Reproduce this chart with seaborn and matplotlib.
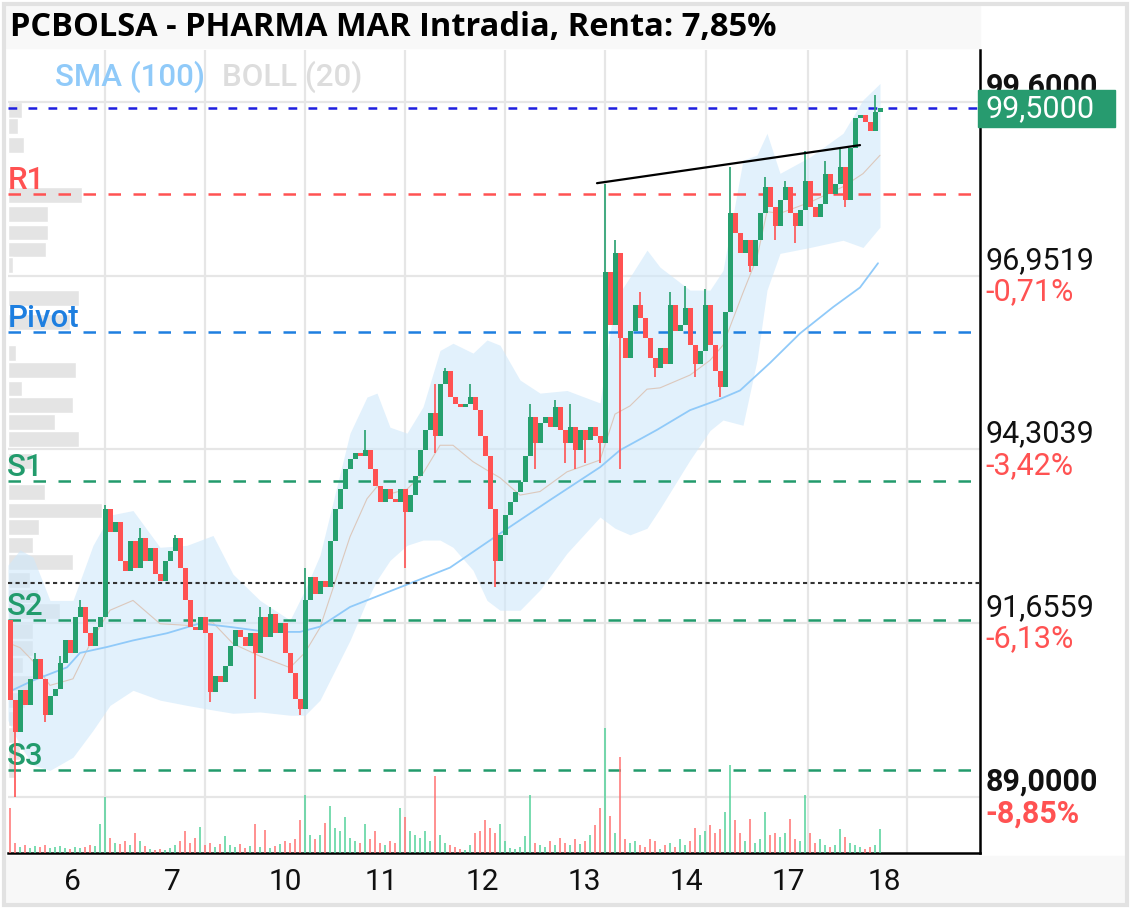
import numpy as np
import pandas as pd
import matplotlib
matplotlib.use("Agg")
import matplotlib.pyplot as plt
import matplotlib.transforms as mtrans
from matplotlib.patches import Rectangle
import seaborn as sns

W, H = 1133, 908

# --- candles (one every ~5 px of the original), open = previous close
first_open = 91.70
closes = [
    90.48, 90.00, 90.63, 90.40, 90.80, 91.10, 90.80, 90.25, 90.55, 90.65,
    91.05, 91.40, 91.20, 91.75, 91.90, 91.50, 91.30, 91.60, 91.75, 93.40,
    93.05, 93.20, 92.60, 92.45, 92.90, 92.50, 92.95, 92.60, 92.80, 92.40,
    92.30, 92.60, 92.75, 92.95, 92.50, 92.00, 91.60, 91.55, 91.75, 91.50,
    90.60, 90.85, 90.75, 91.00, 91.30, 91.55, 91.45, 91.30, 91.50, 91.20,
    91.75, 91.45, 91.80, 91.50, 91.65, 91.20, 90.90, 90.50, 90.35, 92.00,
    92.35, 92.10, 92.30, 92.20, 92.90, 93.40, 93.70, 94.00, 94.15, 94.25,
    94.20, 94.30, 94.00, 93.75, 93.50, 93.70, 93.55, 93.50, 93.70, 93.35,
    93.60, 93.90, 94.30, 94.60, 94.85, 94.50, 95.30, 95.50, 95.10, 95.00,
    94.95, 95.00, 95.10, 94.90, 94.50, 94.20, 93.40, 92.60, 93.00, 93.30,
    93.50, 93.65, 93.80, 94.20, 94.80, 94.40, 94.70, 94.80, 94.65, 94.95,
    94.60, 94.40, 94.65, 94.30, 94.60, 94.45, 94.65, 94.50, 94.40, 97.00,
    96.20, 97.30, 96.00, 95.70, 96.10, 96.50, 96.30, 96.00, 95.70, 95.55,
    95.85, 95.60, 96.50, 96.10, 96.20, 96.45, 95.90, 95.60, 95.80, 96.50,
    95.90, 95.50, 95.25, 96.40, 97.90, 97.60, 97.30, 97.50, 97.10, 97.50,
    97.90, 98.30, 98.00, 97.70, 98.10, 98.30, 97.90, 97.70, 97.95, 98.40,
    98.00, 97.85, 98.05, 98.50, 98.20, 98.35, 98.60, 98.10, 98.90, 99.35,
    99.40, 99.30, 99.15, 99.45, 99.50,
]
wick_high = {5: 91.2, 10: 91.15, 14: 92.0, 19: 93.45, 26: 93.1, 33: 93.0,
             50: 91.9, 52: 91.9, 59: 92.5, 71: 94.6, 85: 95.3, 87: 95.55,
             92: 95.3, 104: 95.0, 109: 95.05, 112: 95.0, 119: 98.35,
             121: 97.5, 126: 96.7, 132: 96.7, 135: 96.8, 139: 96.75,
             144: 98.6, 151: 98.45, 155: 98.4, 159: 98.85, 163: 98.7,
             166: 98.9, 173: 99.7}
wick_low = {1: 89.0, 7: 90.15, 40: 90.45, 49: 90.5, 58: 90.25, 79: 92.5,
            85: 94.25, 97: 92.2, 105: 94.0, 111: 94.1, 113: 94.0, 115: 94.1,
            118: 94.1, 122: 94.0, 129: 95.4, 137: 95.4, 142: 95.1,
            148: 97.0, 153: 97.5, 157: 97.45, 167: 98.0}
volumes = [
    45, 10, 6, 8, 5, 7, 6, 8, 5, 6, 7, 5, 4, 6, 5, 6, 8, 7, 29, 56,
    15, 10, 9, 12, 8, 20, 12, 7, 4, 3, 4, 3, 5, 8, 12, 22, 10, 15, 26, 8,
    10, 6, 9, 17, 8, 6, 9, 5, 7, 29, 6, 23, 5, 7, 9, 12, 10, 14, 33, 58,
    18, 14, 18, 30, 47, 25, 22, 36, 15, 12, 10, 29, 14, 22, 10, 8, 12, 10, 45, 36,
    22, 18, 15, 22, 12, 77, 18, 10, 8, 6, 4, 3, 8, 20, 22, 33, 25, 20, 29, 12,
    5, 4, 6, 17, 58, 10, 8, 6, 12, 8, 15, 10, 8, 14, 9, 12, 18, 28, 45, 125,
    37, 20, 96, 14, 10, 12, 8, 6, 14, 12, 4, 8, 10, 6, 14, 8, 12, 25, 18, 22,
    28, 20, 24, 41, 88, 33, 20, 12, 34, 10, 14, 41, 18, 20, 16, 20, 34, 14, 12, 58,
    20, 10, 14, 8, 6, 8, 24, 16, 10, 8, 6, 4, 6, 8, 24,
]

# --- indicators (candle-index units)
sma_pos = [-0.4, 4.6, 11.4, 14, 19.4, 24.6, 31.4, 38, 44.6, 51.4, 58, 62, 68,
           78, 88, 98, 108, 118, 122, 129.4, 136, 141.4, 146, 152, 158,
           164.6, 170, 173.6]
sma_val = [90.6, 90.78, 90.98, 91.2, 91.29, 91.39, 91.5, 91.65, 91.59, 91.52,
           91.52, 91.6, 91.9, 92.2, 92.5, 93.02, 93.53, 94.03, 94.29, 94.6,
           94.9, 95.05, 95.2, 95.62, 96.07, 96.47, 96.77, 97.14]

band_pos = [-0.4, 2, 4.6, 8, 12.6, 16.6, 20, 24.6, 30, 35.4, 40.6, 44.6, 50,
            56, 59, 62, 68, 71.4, 73.4, 76, 79.4, 82.6, 86, 88.6, 92.6, 95.4,
            98, 102, 106, 111.4, 118, 121, 124, 127.4, 130, 136, 140, 142.6,
            146.6, 149.4, 151.4, 154, 160, 166.6, 170.6, 174]
band_upper = [92.54, 92.77, 92.66, 92.00, 92.00, 92.84, 93.30, 93.37, 92.81,
              92.84, 92.99, 92.40, 92.00, 91.70, 92.16, 92.69, 94.55, 95.10,
              95.16, 94.64, 94.55, 94.95, 95.81, 95.92, 95.77, 95.97, 95.89,
              95.36, 95.16, 95.20, 95.01, 96.58, 96.93, 97.34, 97.08, 96.73,
              96.73, 97.03, 98.71, 98.79, 99.12, 98.51, 98.76, 99.12, 99.63,
              99.88]
band_lower = [90.17, 89.79, 89.49, 89.41, 89.61, 90.02, 90.40, 90.63, 90.48,
              90.40, 90.33, 90.28, 90.30, 90.25, 90.25, 90.48, 91.39, 92.00,
              92.31, 92.61, 92.84, 92.92, 92.92, 92.81, 92.46, 92.00, 91.85,
              91.85, 92.16, 92.72, 93.27, 93.10, 93.00, 93.10, 93.40, 94.14,
              94.59, 94.75, 94.67, 95.66, 96.73, 97.29, 97.38, 97.49, 97.38,
              97.69]

# --- volume profile on the left edge
profile_levels = [99.47, 99.23, 98.94, 98.18, 97.89, 97.61, 97.35, 97.11,
                  96.61, 96.24, 95.77, 95.51, 95.23, 94.98, 94.72, 94.46,
                  94.12, 93.65, 93.37, 93.12, 92.84, 92.58, 92.31, 92.06,
                  91.84, 91.53, 91.27, 91.01, 90.74, 90.48, 90.20, 89.95,
                  89.69, 89.41]
profile_vol = [14, 10, 16, 74, 40, 40, 38, 5, 71, 62, 8, 68, 14, 65, 47, 71,
               24, 37, 94, 31, 25, 65, 22, 30, 52, 25, 25, 15, 25, 17, 12, 7,
               12, 7]

# --- levels / annotations
level_names = ["R1", "Pivot", "S1", "S2", "S3"]
level_values = [98.19, 96.09, 93.82, 91.70, 89.41]
level_colors = ["#ff5252", "#1e7fe0", "#229b6c", "#229b6c", "#229b6c"]
last_price = 99.50
ref_price = 92.26
trend_pos = [117.4, 170]
trend_val = [98.36, 98.94]

price_ticks = [89.0, 91.6559, 94.3039, 96.9519, 99.6]
price_labels = ["89,0000", "91,6559", "94,3039", "96,9519", "99,6000"]
pct_labels = ["-8,85%", "-6,13%", "-3,42%", "-0,71%", ""]

day_pos = [12.4, 32.4, 55, 74.2, 94.4, 114.8, 135.2, 155.6, 174.8]
day_labels = ["6", "7", "10", "11", "12", "13", "14", "17", "18"]
grid_pos = [19, 39, 59, 79, 99, 119, 139.2, 159.6, 179.4]

GREEN = "#26a06e"
RED = "#ff5252"

# ------------------------------------------------------------------
opens = [first_open] + closes[:-1]
df = pd.DataFrame({"i": np.arange(len(closes)), "open": opens,
                   "close": closes, "vol": volumes})
df["high"] = df[["open", "close"]].max(axis=1)
df["low"] = df[["open", "close"]].min(axis=1)
for k, v in wick_high.items():
    df.loc[k, "high"] = v
for k, v in wick_low.items():
    df.loc[k, "low"] = v
df["up"] = df["close"] >= df["open"]
df["color"] = np.where(df["up"], GREEN, RED)
df["vcolor"] = np.where(df["up"], "#4fd197", "#ff6e6e")
df["body_lo"] = df[["open", "close"]].min(axis=1)
df["body_h"] = (df["close"] - df["open"]).abs().clip(lower=0.03)

sns.set_theme(style="white")
plt.rcParams["font.family"] = ["Roboto", "DejaVu Sans"]

fig = plt.figure(figsize=(W / 100, H / 100), dpi=100)
fig.patch.set_facecolor("white")


def fx(px):
    return px / W


def fy(py):
    return 1 - py / H


rect = [fx(8), fy(853), (980 - 8) / W, (853 - 50) / H]
ax_prof = fig.add_axes(rect, label="profile", zorder=0)
ax = fig.add_axes(rect, label="price", zorder=1)
ax_vol = fig.add_axes(rect, label="volume", zorder=2)

ylim = (88.15, 100.39)
xlim = (-0.4, 194)

# volume profile
ax_prof.barh(profile_levels, profile_vol, height=0.24, color="#e4e4e4", left=0)
ax_prof.set_xlim(0, 972)
ax_prof.set_ylim(*ylim)
ax_prof.axis("off")

# main price axes
ax.patch.set_visible(False)
ax.set_xlim(*xlim)
ax.set_ylim(*ylim)
ax.set_yticks(price_ticks)
ax.set_xticks(day_pos)
ax.set_xticklabels(day_labels)
ax.set_xticks(grid_pos, minor=True)
ax.set_axisbelow(True)
ax.grid(axis="y", which="major", color="#e6e6e6", lw=1.6)
ax.grid(axis="x", which="minor", color="#e6e6e6", lw=1.6)
ax.grid(axis="x", which="major", visible=False)
ax.tick_params(axis="y", left=False, right=False, labelleft=False)
ax.tick_params(axis="x", which="both", length=0)
ax.tick_params(axis="x", which="major", labelsize=21.5, pad=11,
               labelcolor="#111111")
for s in ["top", "left"]:
    ax.spines[s].set_visible(False)
for s in ["right", "bottom"]:
    ax.spines[s].set_color("black")
    ax.spines[s].set_linewidth(1.8)

# bollinger band + middle line, SMA
ax.fill_between(band_pos, band_lower, band_upper, color="#cfe8fb",
                alpha=0.6, lw=0, zorder=1)
band_mid = [(u + l) / 2 for u, l in zip(band_upper, band_lower)]
sns.lineplot(x=band_pos, y=band_mid, ax=ax, color="#dcc8bc", lw=0.8,
             zorder=2, estimator=None, sort=False)
sns.lineplot(x=sma_pos, y=sma_val, ax=ax, color="#90caf9", lw=1.3,
             zorder=3, estimator=None, sort=False)

# horizontal levels
ax.axhline(last_price, color="#1f1fe0", lw=1.8, ls=(0, (3.5, 4.5)), zorder=3)
ax.axhline(ref_price, color="#333333", lw=1.5, ls=(0, (2, 1.6)), zorder=3)
trans = mtrans.blended_transform_factory(ax.transAxes, ax.transData)
for name, val, col in zip(level_names, level_values, level_colors):
    ax.axhline(val, color=col, lw=1.8, ls=(0, (5, 5)), zorder=3)
    ax.annotate(name, xy=(0, val), xycoords=trans, xytext=(-0.5, 3.5),
                textcoords="offset points", ha="left", va="baseline",
                color=col, fontsize=22.5, fontweight="medium")

# candles
ax.vlines(df["i"], df["low"], df["high"], colors=df["color"], lw=1.2,
          zorder=4)
ax.bar(df["i"], df["body_h"], bottom=df["body_lo"], width=1.0,
       color=df["color"], lw=0, zorder=5)

# trend line
ax.plot(trend_pos, trend_val, color="black", lw=1.6, zorder=6)

# right price scale
for i, (val, lab, pct) in enumerate(zip(price_ticks, price_labels, pct_labels)):
    bold = i == 0 or i == len(price_ticks) - 1
    ax.annotate(lab, xy=(1, val), xycoords=trans, xytext=(4, 0.5),
                textcoords="offset points", ha="left", va="bottom",
                fontsize=22, color="#111111",
                fontweight="bold" if bold else "normal", annotation_clip=False)
    if pct:
        ax.annotate(pct, xy=(1, val), xycoords=trans, xytext=(4, -1),
                    textcoords="offset points", ha="left", va="top",
                    fontsize=22, color=RED,
                    fontweight="bold" if bold else "normal",
                    annotation_clip=False)

ax.add_patch(Rectangle((0.998, last_price - 0.28), 0.141, 0.56,
                       transform=trans, color="#279b6f", clip_on=False,
                       zorder=10))
ax.annotate("99,5000", xy=(1, last_price), xycoords=trans, xytext=(4, 0),
            textcoords="offset points", ha="left", va="center", fontsize=22,
            color="white", zorder=11, annotation_clip=False)

# volume bars
ax_vol.bar(df["i"], df["vol"], width=0.5, color=df["vcolor"], alpha=0.75,
           lw=0)
ax_vol.set_xlim(*xlim)
ax_vol.set_ylim(0, 803)
ax_vol.axis("off")

# frame, title band, bottom band
fig.add_artist(Rectangle((fx(6), fy(48)), (980 - 6) / W, (48 - 6) / H,
                         transform=fig.transFigure, color="#f8f8f8",
                         zorder=-1))
fig.add_artist(Rectangle((fx(6), fy(903)), (1126 - 6) / W, (903 - 856) / H,
                         transform=fig.transFigure, color="#f8f8f8",
                         zorder=-1))
fig.add_artist(Rectangle((fx(4), fy(905)), (1127 - 4) / W, (905 - 4) / H,
                         transform=fig.transFigure, fill=False,
                         edgecolor="#e2e2e2", lw=3, zorder=20))

fig.text(fx(10), fy(28), "PCBOLSA - PHARMA MAR Intradia, Renta: 7,85%",
         fontsize=23.5, fontweight="bold", family=["Open Sans", "DejaVu Sans"],
         color="black", va="center", ha="left")
fig.text(fx(55), fy(77), "SMA (100)", fontsize=22.5, fontweight="medium",
         color="#90caf9", va="center", ha="left")
fig.text(fx(222), fy(77), "BOLL (20)", fontsize=22.5, fontweight="medium",
         color="#dddddd", va="center", ha="left")

fig.savefig("out.png", dpi=100)
